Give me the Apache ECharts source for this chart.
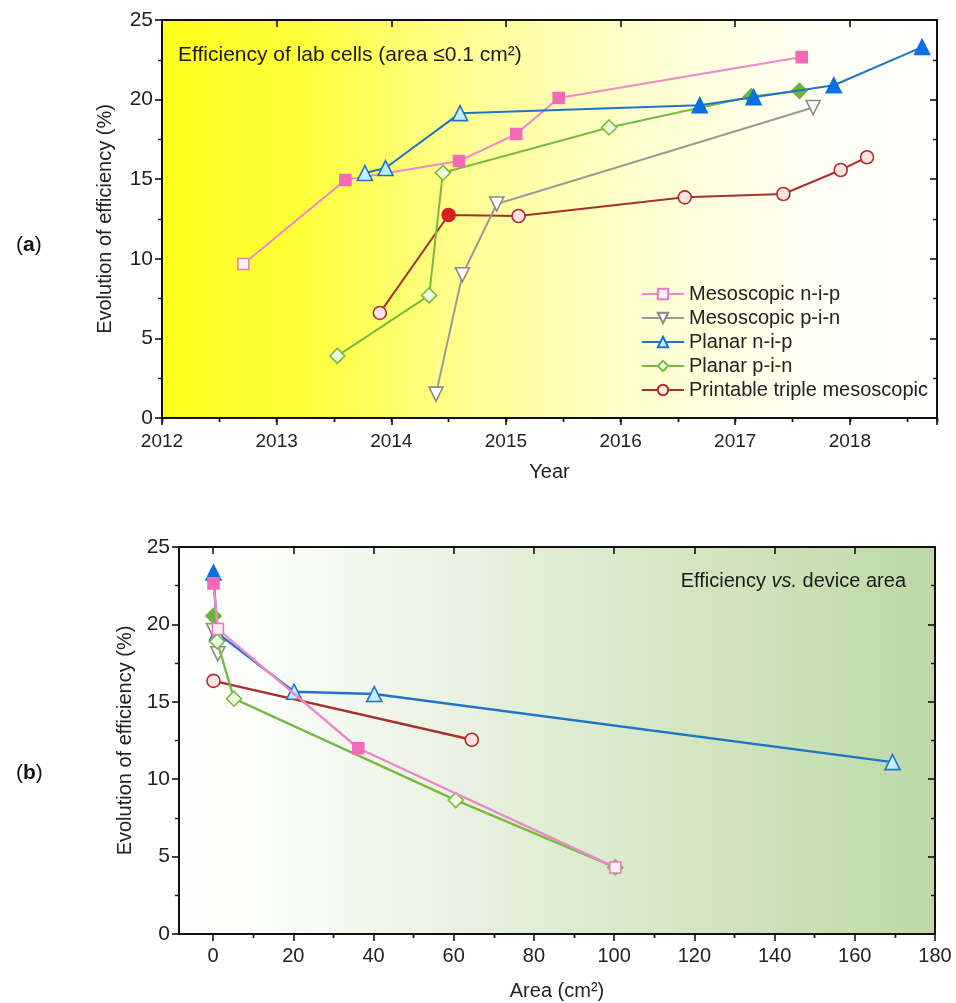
<!DOCTYPE html>
<html><head><meta charset="utf-8">
<script src="https://cdn.jsdelivr.net/npm/echarts@6/dist/echarts.min.js"></script>
<style>html,body{margin:0;padding:0;background:#fff}#c{width:956px;height:1003px}</style>
</head><body><div id="c"></div>
<script>
// ---------- Panel (a): efficiency of lab cells vs. year ----------
const seriesNames = ['Mesoscopic n-i-p', 'Mesoscopic p-i-n', 'Planar n-i-p', 'Planar p-i-n', 'Printable triple mesoscopic'];

const mesoNipYear = [2012.71, 2013.60, 2014.59, 2015.09, 2015.46, 2017.58];
const mesoNipEff  = [9.67, 14.95, 16.14, 17.84, 20.1, 22.67];
const mesoNipCert = [0, 1, 1, 1, 1, 1];

const mesoPinYear = [2014.39, 2014.62, 2014.92, 2017.68];
const mesoPinEff  = [1.5, 9.0, 13.44, 19.5];
const mesoPinCert = [0, 0, 0, 0];

const planarNipYear = [2013.77, 2013.95, 2014.60, 2016.69, 2017.16, 2017.86, 2018.63];
const planarNipEff  = [15.39, 15.7, 19.15, 19.65, 20.15, 20.9, 23.3];
const planarNipCert = [0, 0, 0, 1, 1, 1, 1];

const planarPinYear = [2013.53, 2014.33, 2014.45, 2015.90, 2017.14, 2017.56];
const planarPinEff  = [3.9, 7.7, 15.4, 18.25, 20.2, 20.55];
const planarPinCert = [0, 0, 0, 0, 1, 1];

const printYear = [2013.90, 2014.50, 2015.11, 2016.56, 2017.42, 2017.92, 2018.15];
const printEff  = [6.6, 12.75, 12.69, 13.86, 14.07, 15.58, 16.38];
const printCert = [0, 1, 0, 0, 0, 0, 0];

const yearTicks = [2012, 2013, 2014, 2015, 2016, 2017, 2018];

// ---------- Panel (b): efficiency vs. device area ----------
const mesoNipArea = [0.1, 1.2, 36.2, 100.3];
const mesoNipEffB = [22.65, 19.7, 12.0, 4.3];
const mesoNipCertB = [1, 0, 1, 0];

const mesoPinArea = [0.1, 1.2];
const mesoPinEffB = [19.6, 18.1];
const mesoPinCertB = [0, 0];

const planarNipArea = [0.1, 1.0, 20.2, 40.2, 169.4];
const planarNipEffB = [23.35, 19.45, 15.65, 15.5, 11.1];
const planarNipCertB = [1, 0, 0, 0, 0];

const planarPinArea = [0.1, 1.0, 5.2, 60.5, 100.3];
const planarPinEffB = [20.55, 18.9, 15.2, 8.65, 4.3];
const planarPinCertB = [1, 0, 0, 0, 0];

const printArea = [0.1, 64.5];
const printEffB = [16.35, 12.55];
const printCertB = [0, 0];

const areaTicks = [0, 20, 40, 60, 80, 100, 120, 140, 160, 180];
const areaMinorTicks = areaTicks.slice(0, -1).map((v, i) => (v + areaTicks[i + 1]) / 2);

// ---------- styles ----------
const sty = {
  'Mesoscopic n-i-p': {line: '#ee88c8', border: '#e27cbd', open: '#fff0f8', solid: '#f36bb6', symbol: 'rect', size: 11, rot: 0},
  'Mesoscopic p-i-n': {line: '#9a9a9a', border: '#8a8a8a', open: '#ffffff', solid: '#8a8a8a', symbol: 'triangle', size: 14, rot: 180},
  'Planar n-i-p': {line: '#1f74c6', border: '#1f74c6', open: '#c4ecff', solid: '#0b6fe0', symbol: 'triangle', size: 15, rot: 0},
  'Planar p-i-n': {line: '#79bb40', border: '#79bb40', open: '#f0ffe0', solid: '#6cb33c', symbol: 'diamond', size: 15, rot: 0},
  'Printable triple mesoscopic': {line: '#a8302e', border: '#a8302e', open: '#ffe2e2', solid: '#d42222', symbol: 'circle', size: 13, rot: 0}
};

function mk(name, xs, ys, cert, gi, z) {
  const s = sty[name];
  return {
    type: 'line', name: name,
    xAxisIndex: gi === 0 ? 0 : 4, yAxisIndex: gi === 0 ? 0 : 2,
    data: xs.map((x, i) => cert[i]
      ? {value: [x, ys[i]], itemStyle: {color: s.solid, borderColor: s.solid}}
      : {value: [x, ys[i]]}),
    symbol: s.symbol, symbolSize: s.size, symbolRotate: s.rot,
    showAllSymbol: true,
    lineStyle: {color: s.line, width: gi === 0 ? 2 : 2.4},
    itemStyle: {color: s.open, borderColor: s.border, borderWidth: 1.6},
    emphasis: {disabled: true},
    animation: false, z: z
  };
}

const FONT = 'Liberation Sans, Arial, sans-serif';
const NARROW = 'Liberation Sans Narrow, Liberation Sans, Arial, sans-serif';
const axisLine = {show: true, onZero: false, lineStyle: {color: '#111', width: 2}};

function xAxes(gi, min, max, major, minor, fontFam, fmtFn, name, nameGap, majorVals, minorVals, labMargin, labSize) {
  const tk = (len, inside, vals) => {
    const o = {show: true, inside, length: len, lineStyle: {color: '#111', width: len > 5 ? 1.6 : 1.4}};
    if (vals) o.customValues = vals;
    return o;
  };
  const lab = {show: true, color: '#222', fontSize: labSize, fontFamily: fontFam, margin: labMargin, formatter: fmtFn};
  if (majorVals) lab.customValues = majorVals;
  const base = {gridIndex: gi, type: 'value', min, max, splitLine: {show: false}};
  if (!majorVals) base.interval = major;
  const baseMinor = {gridIndex: gi, type: 'value', min, max, splitLine: {show: false}};
  if (!minorVals) baseMinor.interval = minor;
  return [
    Object.assign({}, base, {position: 'bottom', axisLine, axisTick: tk(7, false, majorVals), axisLabel: lab,
      name, nameLocation: 'middle', nameGap, nameTextStyle: {color: '#222', fontSize: 20, fontFamily: fontFam}}),
    Object.assign({}, baseMinor, {position: 'bottom', axisLine: {show: false}, axisTick: tk(4, false, minorVals), axisLabel: {show: false}}),
    Object.assign({}, base, {position: 'top', axisLine, axisTick: tk(7, true, majorVals), axisLabel: {show: false}}),
    Object.assign({}, baseMinor, {position: 'top', axisLine: {show: false}, axisTick: tk(4, true, minorVals), axisLabel: {show: false}})
  ];
}

function yAxes(gi, fontFam, nameGap) {
  return [
    {gridIndex: gi, type: 'value', position: 'left', min: 0, max: 25, interval: 5,
     axisLine, axisTick: {show: true, length: 7, lineStyle: {color: '#111', width: 1.6}},
     minorTick: {show: true, splitNumber: 2, length: 4, lineStyle: {color: '#111', width: 1.4}},
     axisLabel: {show: true, color: '#222', fontSize: 21, fontFamily: fontFam, margin: 9},
     splitLine: {show: false},
     name: 'Evolution of efficiency (%)', nameLocation: 'middle', nameGap,
     nameTextStyle: {color: '#222', fontSize: 20, fontFamily: FONT}},
    {gridIndex: gi, type: 'value', position: 'right', min: 0, max: 25, interval: 5,
     axisLine, axisTick: {show: true, inside: true, length: 7, lineStyle: {color: '#111', width: 1.6}},
     minorTick: {show: true, splitNumber: 2, length: 4, lineStyle: {color: '#111', width: 1.4}},
     axisLabel: {show: false}, splitLine: {show: false}}
  ];
}

const yearFmt = v => (yearTicks.indexOf(Math.round(v * 1000) / 1000) >= 0 ? String(v) : '');
const areaFmt = v => String(v);

const chart = echarts.init(document.getElementById('c'), null, {renderer: 'canvas'});
chart.setOption({
  animation: false,
  backgroundColor: '#ffffff',
  textStyle: {fontFamily: FONT},
  grid: [
    {left: 162, top: 20, width: 775, height: 398, show: true, borderWidth: 0,
     backgroundColor: {type: 'linear', x: 0, y: 0, x2: 1, y2: 0, colorStops: [
       {offset: 0, color: '#ffff1c'}, {offset: 0.18, color: '#ffff3a'}, {offset: 0.4, color: '#ffff95'},
       {offset: 0.62, color: '#ffffcf'}, {offset: 0.85, color: '#fffff6'}, {offset: 1, color: '#ffffff'}]}},
    {left: 179, top: 547, width: 756, height: 387, show: true, borderWidth: 0,
     backgroundColor: {type: 'linear', x: 0, y: 0, x2: 1, y2: 0, colorStops: [
       {offset: 0, color: '#ffffff'}, {offset: 0.12, color: '#fbfdf9'}, {offset: 0.4, color: '#e7f1de'},
       {offset: 0.7, color: '#d1e5c0'}, {offset: 1, color: '#bdd9a6'}]}}
  ],
  xAxis: [].concat(
    xAxes(0, 2012, 2018.76, 1, 0.5, FONT, yearFmt, 'Year', 44, null, null, 14, 19),
    xAxes(1, -8.5, 180, 20, 10, NARROW, areaFmt, 'Area (cm\u00b2)', 47, areaTicks, areaMinorTicks, 12, 20)
  ),
  yAxis: [].concat(yAxes(0, FONT, 47), yAxes(1, NARROW, 43)),
  legend: {
    show: true, orient: 'vertical', left: 636, top: 279,
    data: seriesNames, itemWidth: 42, itemHeight: 13, itemGap: 4,
    textStyle: {fontSize: 20, lineHeight: 20, color: '#222', fontFamily: FONT},
    selectedMode: false, backgroundColor: 'transparent'
  },
  graphic: [
    {type: 'text', x: 16, y: 245, style: {text: '({b|a})', rich: {b: {fontWeight: 'bold', fontSize: 21, fontFamily: FONT, fill: '#111'}},
      font: '21px ' + FONT, fill: '#111', verticalAlign: 'middle', textVerticalAlign: 'middle'}},
    {type: 'text', x: 16, y: 773, style: {text: '({b|b})', rich: {b: {fontWeight: 'bold', fontSize: 21, fontFamily: FONT, fill: '#111'}},
      font: '21px ' + FONT, fill: '#111', verticalAlign: 'middle', textVerticalAlign: 'middle'}},
    {type: 'text', x: 178, y: 55, z: 50, style: {text: 'Efficiency of lab cells (area \u22640.1 cm\u00b2)',
      font: '21px ' + FONT, fill: '#1a1a1a', verticalAlign: 'middle', textVerticalAlign: 'middle'}},
    {type: 'text', x: 906, y: 581, z: 50, style: {text: 'Efficiency {i|vs.} device area',
      rich: {i: {fontStyle: 'italic', fontSize: 20, fontFamily: NARROW, fill: '#1a1a1a'}},
      font: '20px ' + NARROW, fill: '#1a1a1a', align: 'right', textAlign: 'right', verticalAlign: 'middle', textVerticalAlign: 'middle'}}
  ],
  series: [
    mk('Printable triple mesoscopic', printYear, printEff, printCert, 0, 3),
    mk('Mesoscopic p-i-n', mesoPinYear, mesoPinEff, mesoPinCert, 0, 4),
    mk('Planar p-i-n', planarPinYear, planarPinEff, planarPinCert, 0, 5),
    mk('Mesoscopic n-i-p', mesoNipYear, mesoNipEff, mesoNipCert, 0, 6),
    mk('Planar n-i-p', planarNipYear, planarNipEff, planarNipCert, 0, 7),

    mk('Printable triple mesoscopic', printArea, printEffB, printCertB, 1, 3),
    mk('Planar n-i-p', planarNipArea, planarNipEffB, planarNipCertB, 1, 4),
    mk('Mesoscopic p-i-n', mesoPinArea, mesoPinEffB, mesoPinCertB, 1, 5),
    mk('Planar p-i-n', planarPinArea, planarPinEffB, planarPinCertB, 1, 6),
    mk('Mesoscopic n-i-p', mesoNipArea, mesoNipEffB, mesoNipCertB, 1, 7)
  ]
});
</script>
</body></html>
